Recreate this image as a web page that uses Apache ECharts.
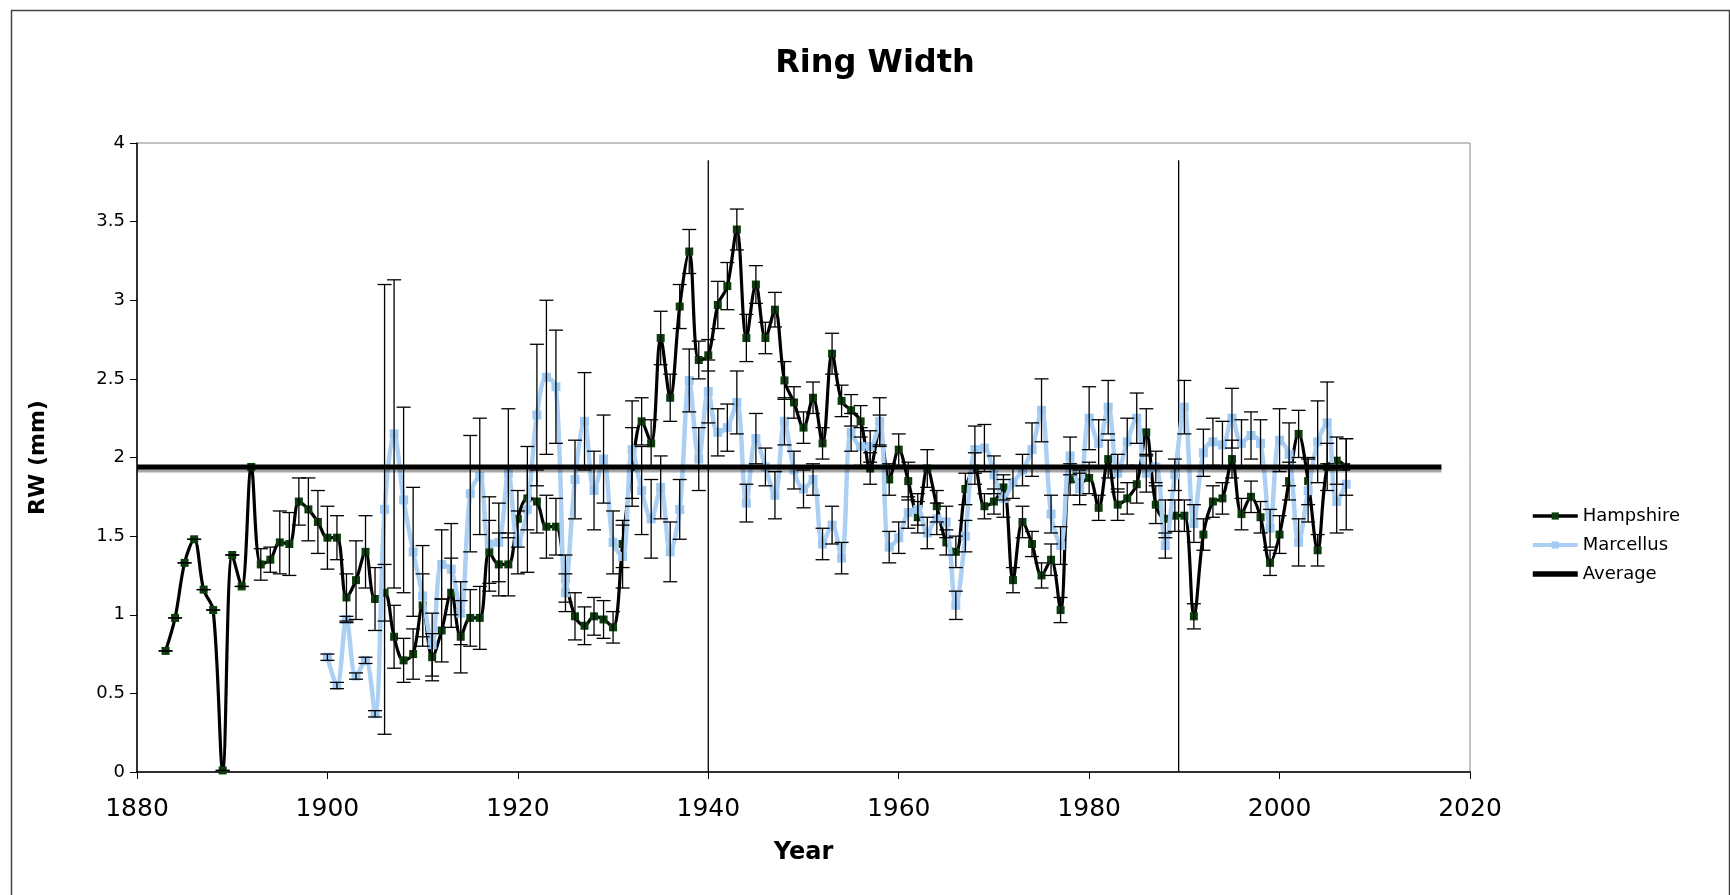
<!DOCTYPE html>
<html>
<head>
<meta charset="utf-8">
<script src="https://cdn.jsdelivr.net/npm/echarts@6/dist/echarts.min.js"></script>
<style>
html,body{margin:0;padding:0;background:#fff;}
#chart{width:1730px;height:895px;}
</style>
</head>
<body>
<div id="chart"></div>
<script>
// ---- data ----
const titleText = 'Ring Width';
const xAxisTitle = 'Year';
const yAxisTitle = 'RW (mm)';
const xTicks = {min: 1880, max: 2020, interval: 20};
const yTicks = {min: 0, max: 4, interval: 0.5};

const hampshireStart = 1883;
const hampshireRW = [
  0.77,0.98,1.33,1.48,1.16,1.03,0.01,1.38,1.18,1.94,            // 1883-1892
  1.32,1.35,1.46,1.45,1.72,1.67,1.59,1.49,1.49,1.11,            // 1893-1902
  1.22,1.40,1.10,1.14,0.86,0.71,0.75,1.06,0.73,0.90,            // 1903-1912
  1.14,0.86,0.98,0.98,1.40,1.32,1.32,1.61,1.74,1.72,            // 1913-1922
  1.56,1.56,1.23,0.99,0.93,0.99,0.97,0.92,1.45,1.94,            // 1923-1932
  2.23,2.09,2.76,2.38,2.96,3.31,2.62,2.65,2.97,3.09,            // 1933-1942
  3.45,2.76,3.10,2.76,2.94,2.49,2.35,2.19,2.38,2.09,            // 1943-1952
  2.66,2.36,2.30,2.23,1.93,2.17,1.86,2.05,1.85,1.62,            // 1953-1962
  1.93,1.69,1.46,1.40,1.80,1.93,1.69,1.72,1.81,1.22,            // 1963-1972
  1.59,1.45,1.25,1.35,1.03,1.86,1.84,1.87,1.68,1.99,            // 1973-1982
  1.70,1.74,1.83,2.16,1.70,1.61,1.63,1.63,0.99,1.51,            // 1983-1992
  1.72,1.74,1.99,1.64,1.75,1.62,1.33,1.51,1.85,2.15,            // 1993-2002
  1.85,1.41,1.94,1.98,1.94                                      // 2003-2007
];
const hampshireErr = [
  0,0,0,0,0,0,0,0,0,0,
  0.10,0.08,0.20,0.20,0.15,0.20,0.20,0.20,0.14,0.15,
  0.25,0.23,0.20,0.18,0.20,0.14,0.16,0.20,0.15,0.20,
  0.22,0.23,0.18,0.20,0.20,0.20,0.20,0.18,0.20,0.20,
  0.20,0.18,0.15,0.15,0.12,0.12,0.12,0.10,0.15,0.25,
  0.15,0.15,0.17,0.15,0.14,0.14,0.12,0.10,0.15,0.15,
  0.13,0.15,0.12,0.10,0.11,0.12,0.10,0.10,0.10,0.10,
  0.13,0.10,0.10,0.10,0.10,0.10,0.10,0.10,0.12,0.10,
  0.12,0.10,0.08,0.10,0.10,0.10,0.08,0.08,0.08,0.08,
  0.10,0.08,0.08,0.10,0.08,0.10,0.08,0.10,0.08,0.12,
  0.10,0.10,0.12,0.15,0.12,0.12,0.10,0.10,0.08,0.10,
  0.10,0.10,0.12,0.10,0.10,0.10,0.08,0.12,0.12,0.15,
  0.15,0.10,0.15,0.15,0.18
];

const marcellusStart = 1900;
const marcellusRW = [
  0.73,0.55,0.97,0.61,0.71,0.37,1.67,2.15,1.73,1.40,            // 1900-1909
  1.12,0.81,1.32,1.29,1.01,1.77,1.88,1.45,1.46,1.90,            // 1910-1919
  1.46,1.67,2.27,2.51,2.45,1.14,1.86,2.23,1.79,1.99,            // 1920-1929
  1.46,1.37,2.05,1.79,1.61,1.81,1.40,1.67,2.49,1.99,            // 1930-1939
  2.42,2.16,2.19,2.35,1.71,2.12,1.94,1.76,2.23,1.92,            // 1940-1949
  1.80,1.86,1.45,1.57,1.36,2.16,2.07,2.07,2.23,1.43,            // 1950-1959
  1.49,1.65,1.67,1.52,1.61,1.59,1.06,1.50,2.05,2.06,            // 1960-1969
  1.89,1.74,1.84,1.92,2.05,2.30,1.64,1.44,2.01,1.80,            // 1970-1979
  2.25,2.09,2.32,1.90,2.10,2.25,1.90,1.94,1.44,1.89,            // 1980-1989
  2.32,1.58,2.03,2.10,2.08,2.25,2.09,2.14,2.09,1.55,            // 1990-1999
  2.11,2.02,1.46,1.79,2.10,2.22,1.72,1.83                       // 2000-2007
];
const marcellusErr = [
  0.02,0.02,0.02,0.02,0.02,0.02,1.43,0.98,0.59,0.41,
  0.32,0.20,0.22,0.29,0.20,0.37,0.37,0.30,0.25,0.41,
  0.20,0.40,0.45,0.49,0.36,0.12,0.25,0.31,0.25,0.28,
  0.20,0.20,0.31,0.28,0.25,0.20,0.19,0.19,0.20,0.20,
  0.20,0.15,0.15,0.20,0.12,0.16,0.12,0.15,0.15,0.12,
  0.12,0.10,0.10,0.12,0.10,0.12,0.12,0.10,0.15,0.10,
  0.10,0.10,0.10,0.10,0.10,0.10,0.09,0.10,0.15,0.15,
  0.12,0.12,0.10,0.10,0.17,0.20,0.12,0.12,0.12,0.10,
  0.20,0.15,0.17,0.12,0.15,0.16,0.12,0.10,0.08,0.10,
  0.17,0.12,0.15,0.15,0.15,0.19,0.15,0.15,0.15,0.12,
  0.20,0.20,0.15,0.20,0.26,0.26,0.20,0.29
];

const averageRW = 1.94;
const averageSpan = [1880, 2017];
const dividerYears = [1940, 1989.4];
const dividerTop = 3.89;

// ---- build series data ----
function pairs(start, vals) { return vals.map((v, i) => [start + i, v]); }
function errs(start, vals, e) { return vals.map((v, i) => [start + i, v - e[i], v + e[i]]); }

const hampData = pairs(hampshireStart, hampshireRW);
const marcData = pairs(marcellusStart, marcellusRW);
const errData = errs(hampshireStart, hampshireRW, hampshireErr)
  .concat(errs(marcellusStart, marcellusRW, marcellusErr));

const FONT = 'DejaVu Sans';

const chart = echarts.init(document.getElementById('chart'), null, {renderer: 'canvas'});

function renderErr(params, api) {
  const x = api.value(0), lo = api.value(1), hi = api.value(2);
  const a = api.coord([x, hi]);
  const b = api.coord([x, lo]);
  const hw = 7;
  const st = {stroke: '#000', lineWidth: 1.3};
  return {
    type: 'group',
    children: [
      {type: 'line', shape: {x1: a[0], y1: a[1], x2: b[0], y2: b[1]}, style: st},
      {type: 'line', shape: {x1: a[0] - hw, y1: a[1], x2: a[0] + hw, y2: a[1]}, style: st},
      {type: 'line', shape: {x1: b[0] - hw, y1: b[1], x2: b[0] + hw, y2: b[1]}, style: st}
    ]
  };
}

const dividerSeries = dividerYears.map((yr, i) => ({
  name: 'divider' + i,
  type: 'line',
  data: [[yr, yTicks.min], [yr, dividerTop]],
  symbol: 'none',
  lineStyle: {color: '#000', width: 1.3},
  z: 1,
  silent: true
}));

const option = {
  animation: false,
  backgroundColor: '#fff',
  textStyle: {fontFamily: FONT},
  title: {
    text: titleText,
    left: 870, top: 43, textAlign: 'center',
    textStyle: {fontFamily: FONT, fontWeight: 'bold', fontSize: 32, color: '#000'}
  },
  graphic: [{
    type: 'rect', left: 9, top: 8, z: 100,
    shape: {width: 1718, height: 910},
    style: {fill: 'none', stroke: '#444', lineWidth: 1.5}
  }],
  legend: {
    orient: 'vertical',
    left: 1525, top: 502,
    itemWidth: 45, itemHeight: 9, itemGap: 11,
    data: [
      {name: 'Hampshire', lineStyle: {width: 3.5, color: '#000'}},
      {name: 'Marcellus', lineStyle: {width: 4, color: '#abd0f3'}},
      {name: 'Average', lineStyle: {width: 5.5, color: '#000'}, itemStyle: {color: 'rgba(0,0,0,0)', borderWidth: 0}}
    ],
    textStyle: {fontFamily: FONT, fontSize: 18, color: '#000'}
  },
  grid: {left: 137, right: 260, top: 143, bottom: 123, show: true, borderColor: '#888', borderWidth: 1, backgroundColor: 'transparent'},
  xAxis: {
    type: 'value', min: xTicks.min, max: xTicks.max, interval: xTicks.interval,
    name: xAxisTitle, nameLocation: 'middle', nameGap: 69,
    nameTextStyle: {fontFamily: FONT, fontWeight: 'bold', fontSize: 24, color: '#000'},
    axisLine: {lineStyle: {color: '#000', width: 1.5}},
    axisTick: {show: true, inside: false, length: 7, lineStyle: {color: '#000'}},
    axisLabel: {fontFamily: FONT, fontSize: 25, color: '#000', margin: 25, formatter: v => String(v)},
    splitLine: {show: false}
  },
  yAxis: {
    type: 'value', min: yTicks.min, max: yTicks.max, interval: yTicks.interval,
    name: yAxisTitle, nameLocation: 'middle', nameGap: 88, nameRotate: 90,
    nameTextStyle: {fontFamily: FONT, fontWeight: 'bold', fontSize: 22, color: '#000'},
    axisLine: {show: true, lineStyle: {color: '#000', width: 1.5}},
    axisTick: {show: true, inside: false, length: 7, lineStyle: {color: '#000'}},
    axisLabel: {fontFamily: FONT, fontSize: 18, color: '#000', margin: 12},
    splitLine: {show: false}
  },
  series: [
    ...dividerSeries,
    {
      name: 'Hampshire', type: 'line', data: hampData, smooth: 0.35,
      symbol: 'rect', symbolSize: 8,
      itemStyle: {color: '#0d3d0d', borderWidth: 0},
      lineStyle: {color: '#000', width: 3.2},
      z: 3
    },
    {
      name: 'Marcellus', type: 'line', data: marcData, smooth: 0.35,
      symbol: 'rect', symbolSize: 9,
      itemStyle: {color: '#9fcaf3', borderWidth: 0},
      lineStyle: {color: '#abd0f3', width: 4.5},
      z: 4
    },
    {
      name: 'Average', type: 'line', data: averageSpan.map(x => [x, averageRW]),
      symbol: 'none',
      itemStyle: {color: '#000'},
      lineStyle: {color: '#000', width: 5, shadowColor: 'rgba(0,0,0,0.35)', shadowOffsetY: 3, shadowBlur: 0},
      z: 5
    },
    {
      name: 'errors', type: 'custom', data: errData, renderItem: renderErr,
      encode: {x: 0, y: [1, 2]}, z: 6, silent: true
    }
  ]
};
chart.setOption(option);
</script>
</body>
</html>
